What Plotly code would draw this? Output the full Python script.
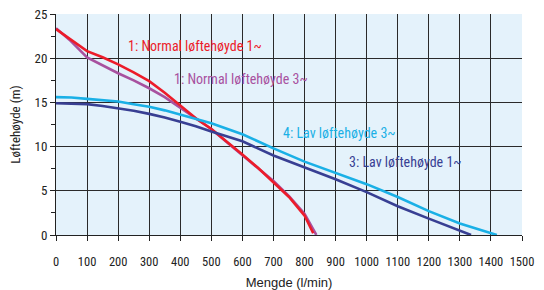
import plotly.graph_objects as go

# Data
q_norm1 = [0, 43, 100, 150, 200, 250, 300, 350, 400, 450, 500, 550, 600, 650, 700, 750, 800, 828]
h_norm1 = [23.3, 22.2, 20.8, 20.1, 19.3, 18.4, 17.4, 16.1, 14.7, 13.2, 12.0, 10.6, 9.1, 7.6, 6.0, 4.3, 2.2, 0.2]

q_norm3 = [0, 43, 100, 150, 200, 250, 300, 350, 400, 450, 500, 550, 600, 650, 700, 750, 800, 838]
h_norm3 = [23.4, 22.1, 20.1, 19.2, 18.3, 17.5, 16.6, 15.6, 14.4, 13.1, 12.0, 10.5, 9.0, 7.6, 6.1, 4.4, 2.4, 0.0]

q_lav3 = [0, 50, 100, 150, 200, 250, 300, 350, 400, 450, 500, 600, 700, 800, 900, 1000, 1100, 1200, 1300, 1419]
h_lav3 = [15.6, 15.55, 15.4, 15.25, 15.1, 14.8, 14.5, 14.1, 13.6, 13.1, 12.65, 11.4, 9.8, 8.3, 7.0, 5.75, 4.3, 2.7, 1.3, 0.0]

q_lav1 = [0, 50, 100, 150, 200, 250, 300, 350, 400, 450, 500, 600, 700, 800, 900, 1000, 1100, 1200, 1300, 1336]
h_lav1 = [14.9, 14.85, 14.8, 14.6, 14.35, 14.05, 13.7, 13.3, 12.8, 12.3, 11.7, 10.6, 9.0, 7.65, 6.3, 4.85, 3.25, 1.85, 0.5, 0.0]

series = [
    ("1: Normal løftehøyde 1~", q_norm1, h_norm1, "#ec1c2a", 446, 21.4),
    ("1: Normal løftehøyde 3~", q_norm3, h_norm3, "#a8519f", 595, 17.6),
    ("4: Lav løftehøyde 3~", q_lav3, h_lav3, "#1ab0e6", 911, 11.55),
    ("3: Lav løftehøyde 1~", q_lav1, h_lav1, "#383f93", 1124, 8.26),
]

x_ticks = list(range(0, 1501, 100))

FONT = "Liberation Sans Narrow, Arial Narrow, Roboto Condensed, sans-serif"

fig = go.Figure()
order = [1, 0, 3, 2]
for i in order:
    name, q, h, col, lx, ly = series[i]
    fig.add_trace(go.Scatter(x=q, y=h, mode="lines", name=name,
                             line=dict(color=col, width=2.6),
                             showlegend=False, hoverinfo="skip"))
for name, q, h, col, lx, ly in series:
    fig.add_annotation(x=lx, y=ly, xref="x", yref="y", text=name, showarrow=False,
                       font=dict(family=FONT, size=14, color=col))

# page body has an 8px margin: figure is 536x282 placed at (8,8)
fig.update_layout(
    width=536, height=282,
    margin=dict(l=48, r=22, t=6, b=55, autoexpand=False),
    paper_bgcolor="white",
    plot_bgcolor="#e4f2fb",
    font=dict(family=FONT, size=12, color="#222"),
)
fig.update_xaxes(
    range=[0, 1500], tickmode="array", tickvals=x_ticks,
    showgrid=True, gridcolor="#2a2a2a", gridwidth=1,
    ticks="outside", ticklen=5, tickcolor="#222",
    showline=True, linecolor="#222", linewidth=1,
    zeroline=False, automargin=False, ticklabelstandoff=10,
    title=dict(text="Mengde (l/min)", font=dict(family="Liberation Sans, Arial, sans-serif", size=13, color="#222"), standoff=10),
    tickfont=dict(family=FONT, size=12.5, color="#222"),
)
fig.update_yaxes(
    range=[0, 25], dtick=5, tick0=0,
    showgrid=True, gridcolor="#2a2a2a", gridwidth=1,
    ticks="outside", ticklen=5, tickcolor="#222",
    minor=dict(dtick=2.5, ticks="outside", ticklen=4, tickcolor="#222", showgrid=False),
    showline=True, linecolor="#222", linewidth=1,
    zeroline=False, automargin=False, ticklabeloverflow="allow",
    title=dict(text="Løftehøyde (m)", font=dict(family=FONT, size=13, color="#222"), standoff=12),
    tickfont=dict(family=FONT, size=13, color="#222"),
)

fig.write_html("out.html")
